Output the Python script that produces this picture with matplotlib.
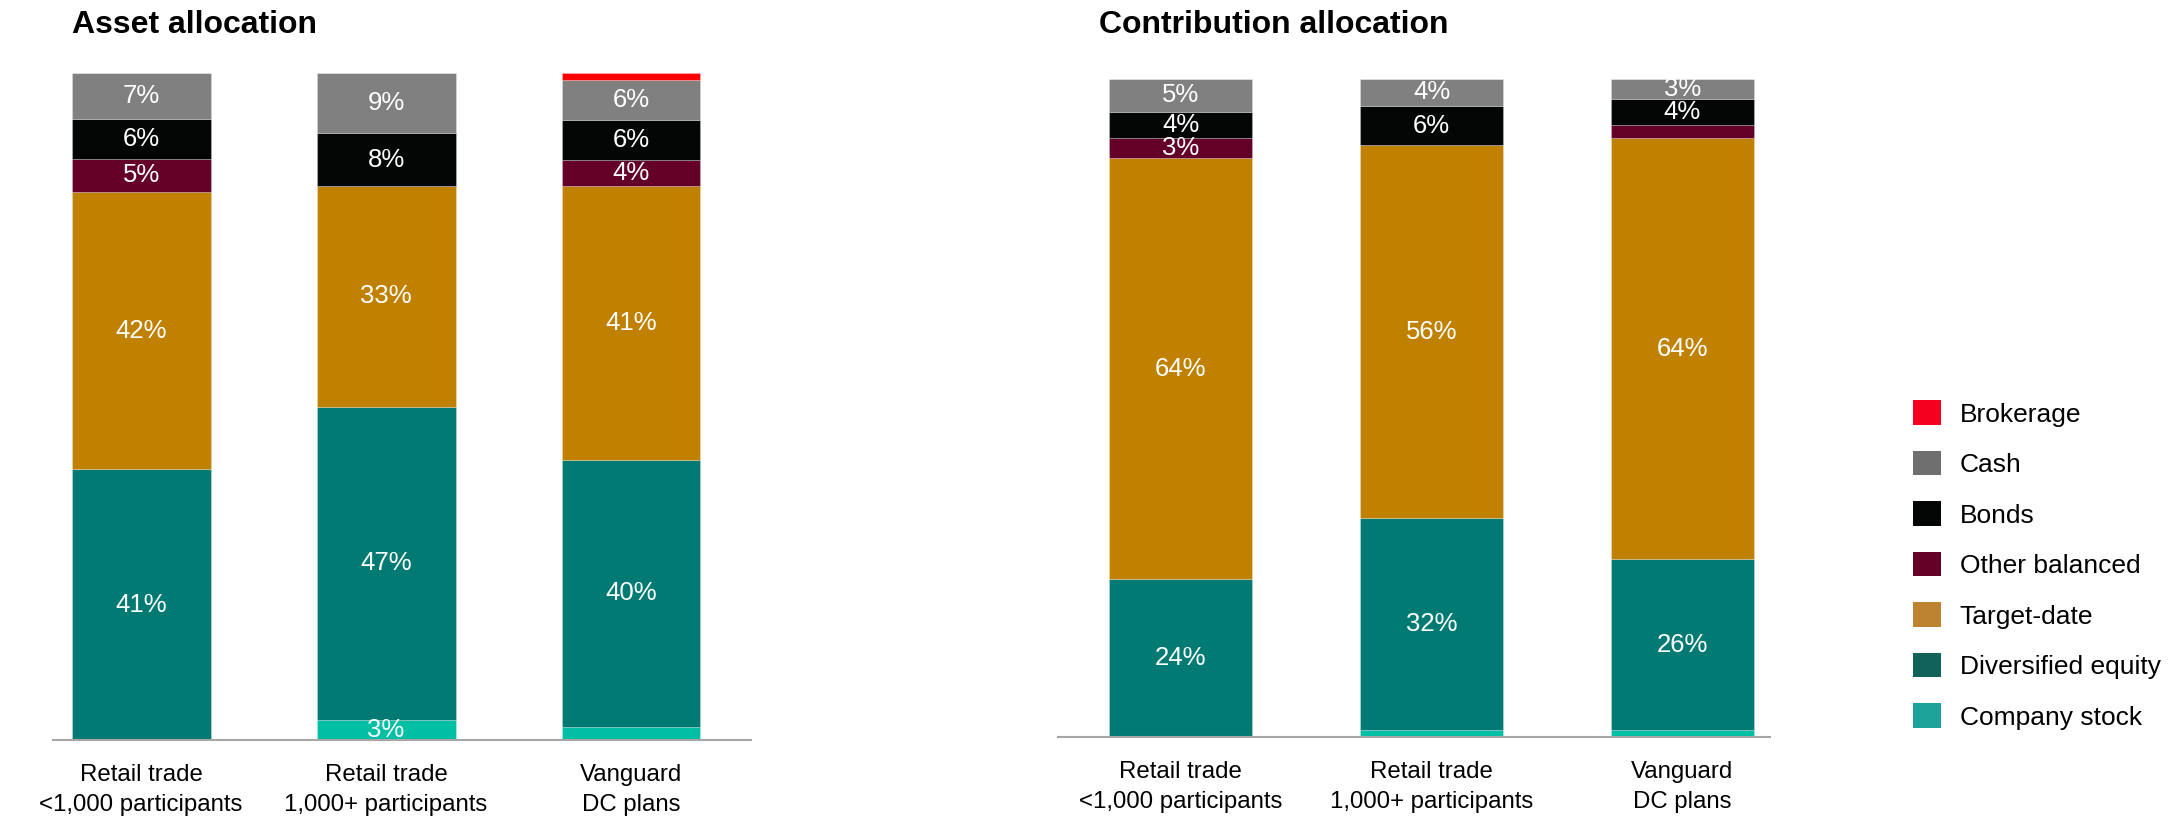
import matplotlib
matplotlib.use("Agg")
import matplotlib.pyplot as plt
from matplotlib.patches import Patch
import numpy as np

plt.rcParams['font.family'] = ['Liberation Sans', 'DejaVu Sans']

categories = ["Retail trade\n<1,000 participants",
              "Retail trade\n1,000+ participants",
              "Vanguard\nDC plans"]
series = ["Company stock", "Diversified equity", "Target-date",
          "Other balanced", "Bonds", "Cash", "Brokerage"]

# asset allocation (% of assets)
asset_company_stock = [0, 3, 2]
asset_diversified = [41, 47, 40]
asset_target_date = [42, 33, 41]
asset_other_balanced = [5, 0, 4]
asset_bonds = [6, 8, 6]
asset_cash = [7, 9, 6]
asset_brokerage = [0, 0, 1]

# contribution allocation (% of contributions)
contrib_company_stock = [0, 1, 1]
contrib_diversified = [24, 32, 26]
contrib_target_date = [64, 56, 64]
contrib_other_balanced = [3, 0, 2]
contrib_bonds = [4, 6, 4]
contrib_cash = [5, 4, 3]
contrib_brokerage = [0, 0, 0]

bar_colors = ["#00BFA5", "#007A72", "#C08000", "#640028",
              "#040606", "#808080", "#FF0000"]
legend_colors = ["#1DA399", "#10625B", "#BD8330", "#640028",
                 "#040606", "#6F6F6F", "#F5001F"]

asset = [asset_company_stock, asset_diversified, asset_target_date,
         asset_other_balanced, asset_bonds, asset_cash, asset_brokerage]
contrib = [contrib_company_stock, contrib_diversified, contrib_target_date,
           contrib_other_balanced, contrib_bonds, contrib_cash, contrib_brokerage]

W, H = 2169, 817
fig = plt.figure(figsize=(W / 100, H / 100), dpi=100)

ax1 = fig.add_axes([53 / W, 1 - 740 / H, 698 / W, 667 / H])
ax2 = fig.add_axes([1058 / W, 1 - 737 / H, 712 / W, 658 / H])


def stacked(ax, data, xlim, width):
    x = np.arange(len(categories))
    data = np.array(data, dtype=float)
    # rounded shares don't always add to 100, so stack each column as share of its total
    totals = data.sum(axis=0)
    bottom = np.zeros(len(categories))
    for vals, col in zip(data, bar_colors):
        h = vals / totals * 100
        ax.bar(x, h, width, bottom=bottom, color=col,
               edgecolor=(1, 1, 1, 0.25), linewidth=0.7)
        for xi, b, hh, v in zip(x, bottom, h, vals):
            if v >= 3:
                ax.text(xi, b + hh / 2, f"{v:.0f}%", ha='center', va='center',
                        color='white', fontsize=18.5)
        bottom += h
    ax.set_xlim(*xlim)
    ax.set_ylim(0, 100)
    ax.set_xticks(x)
    ax.set_xticklabels(categories, fontsize=17.3, linespacing=1.5)
    ax.tick_params(axis='x', length=0, pad=17)
    ax.set_yticks([])
    for s in ['top', 'right', 'left']:
        ax.spines[s].set_visible(False)
    ax.spines['bottom'].set_color('#A6A6A6')
    ax.spines['bottom'].set_linewidth(1.5)


stacked(ax1, asset, (-0.36, 2.49), 0.567)
stacked(ax2, contrib, (-0.49, 2.35), 0.57)

fig.text(72 / W, 1 - 25 / H, "Asset allocation", fontsize=23,
         fontweight='bold', va='center', ha='left')
fig.text(1099 / W, 1 - 25 / H, "Contribution allocation", fontsize=23,
         fontweight='bold', va='center', ha='left')

handles = [Patch(facecolor=c, edgecolor='none', label=s)
           for s, c in zip(series, legend_colors)][::-1]
fig.legend(handles=handles, loc='center left',
           bbox_to_anchor=(1913 / W, 1 - 565 / H), frameon=False,
           fontsize=19, handlelength=1.05, handleheight=1.05,
           handletextpad=0.72, labelspacing=0.92, borderpad=0, borderaxespad=0)

fig.savefig("out.png", dpi=100)
